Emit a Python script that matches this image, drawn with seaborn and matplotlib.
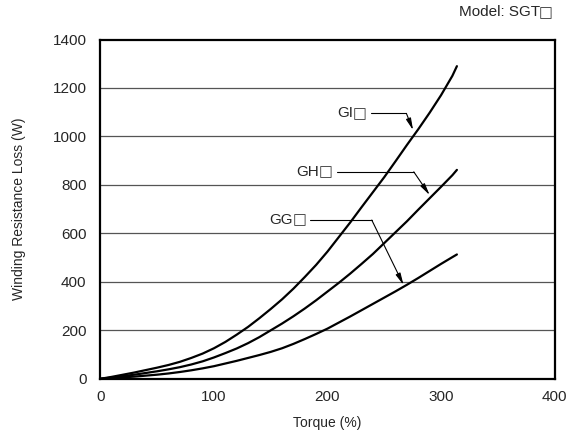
import matplotlib
matplotlib.use("Agg")
import matplotlib.pyplot as plt
import seaborn as sns
import pandas as pd

# torque (%) sample points
torque = [0, 10, 20, 30, 40, 50, 60, 70, 80, 90, 100, 110, 120, 130, 140, 150,
          160, 170, 180, 190, 200, 210, 220, 230, 240, 250, 260, 270, 280, 290,
          300, 310, 314]
loss_gi = [0, 8, 17, 26, 36, 46, 57, 70, 86, 104, 126, 152, 182, 214, 250, 288,
           328, 372, 420, 470, 525, 585, 645, 708, 770, 832, 898, 965, 1030, 1098,
           1170, 1250, 1290]
loss_gh = [0, 5, 11, 17, 24, 31, 39, 48, 59, 72, 88, 106, 125, 147, 172, 200,
           228, 258, 290, 324, 360, 396, 434, 474, 515, 560, 605, 650, 698, 745,
           792, 840, 862]
loss_gg = [0, 3, 6, 9, 13, 17, 22, 28, 35, 43, 52, 63, 74, 86, 98, 111,
           126, 144, 164, 185, 207, 232, 257, 283, 309, 335, 361, 388, 416, 445,
           474, 502, 513]

series_names = ["GI", "GH", "GG"]
x_ticks = [0, 100, 200, 300, 400]
y_ticks = [0, 200, 400, 600, 800, 1000, 1200, 1400]
BOX = "\u25a1"

# label callouts: text end, knee of leader, arrow tip (data coords)
callouts = {
    "GI": [(238, 1095), (269.5, 1095), (275.4, 1026)],
    "GH": [(208, 854), (276, 854), (290, 758)],
    "GG": [(185, 655), (239, 655), (267, 387)],
}

df = pd.concat([
    pd.DataFrame({"torque": torque, "loss": vals, "model": name})
    for name, vals in zip(series_names, [loss_gi, loss_gh, loss_gg])
])

sns.set_style("white")
plt.rcParams["font.family"] = ["Liberation Sans", "DejaVu Sans"]

fig = plt.figure(figsize=(5.67, 4.38), dpi=100)
ax = fig.add_axes([0.1772, 0.1352, 0.8008, 0.7746])

for y in y_ticks[1:-1]:
    ax.axhline(y, color="#555555", lw=0.9, zorder=1)

sns.lineplot(data=df, x="torque", y="loss", hue="model",
             palette=["black"] * 3, linewidth=1.6, legend=False, ax=ax, zorder=3)

def boxed_label(xy, prefix, coords, pad_pt=0):
    # letters in Liberation Sans, the square glyph from DejaVu Sans
    box = ax.annotate(BOX, xy=xy, xycoords=coords, xytext=(-pad_pt, 0),
                      textcoords="offset points", ha="right", va="center",
                      fontsize=10.5, family="DejaVu Sans", color="#333333",
                      annotation_clip=False)
    fig.canvas.draw()
    w = box.get_window_extent().width * 72 / fig.dpi
    ax.annotate(prefix, xy=xy, xycoords=coords, xytext=(-pad_pt - w + 0.5, 0),
                textcoords="offset points", ha="right", va="center",
                fontsize=11, annotation_clip=False)

for name, pts in callouts.items():
    (x0, y0), (x1, y1), (x2, y2) = pts
    ax.plot([x0, x1], [y0, y1], color="black", lw=0.8, zorder=4)
    ax.annotate("", xy=(x2, y2), xytext=(x1, y1),
                arrowprops=dict(arrowstyle="-|>,head_length=0.7,head_width=0.15",
                                color="black", lw=0.8, shrinkA=0, shrinkB=0), zorder=4)
    boxed_label((x0, y0), name, "data", pad_pt=3)

ax.set_xlim(0, 400)
ax.set_ylim(0, 1400)
ax.set_xticks(x_ticks)
ax.set_yticks(y_ticks)
ax.tick_params(axis="both", direction="in", length=4, width=0.8, labelsize=11)
ax.tick_params(axis="x", pad=8)
ax.tick_params(axis="y", length=0, pad=10)
for s in ax.spines.values():
    s.set_linewidth(1.6)
    s.set_color("black")

ax.set_xlabel("Torque (%)", fontsize=10, labelpad=9)
ax.set_ylabel("Winding Resistance Loss (W)", fontsize=10, labelpad=19)
boxed_label((0.975, 0.972), "Model: SGT", "figure fraction")

fig.savefig("out.png", dpi=100)
